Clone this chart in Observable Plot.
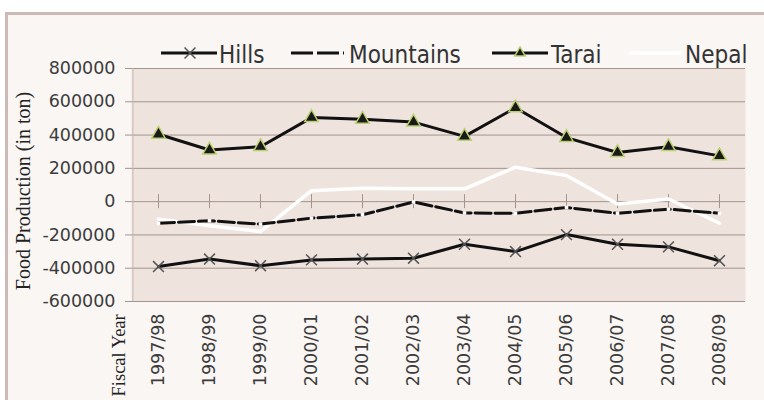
<!DOCTYPE html>
<html><head><meta charset="utf-8">
<script src="https://cdn.jsdelivr.net/npm/d3@7"></script>
<script src="https://cdn.jsdelivr.net/npm/@observablehq/plot@0.6"></script>
<style>
body{margin:0;background:#fff;}
#wrap{position:relative;width:764px;height:400px;overflow:hidden;background:#fff;}
#box{position:absolute;left:5px;top:12px;width:800px;height:400px;background:#faf6f4;border-left:3px solid #cdbab7;border-top:3px solid #cdbab7;}
#chart{position:absolute;left:0;top:0;}
#legend{position:absolute;left:0;top:0;}
</style></head><body>
<div id="wrap"><div id="box"></div><div id="chart"></div><svg id="legend" width="764" height="75"></svg></div>
<script>
const years = ["1997/98","1998/99","1999/00","2000/01","2001/02","2002/03","2003/04","2004/05","2005/06","2006/07","2007/08","2008/09"];
const hills = [-390000,-345000,-385000,-350000,-345000,-340000,-256000,-300000,-198000,-256000,-272000,-355000];
const mountains = [-130000,-115000,-135000,-99000,-79000,-2000,-68000,-70000,-35000,-70000,-45000,-70000];
const tarai = [405000,310000,330000,505000,495000,478000,392000,564000,385000,295000,330000,275000];
const nepal = [-105000,-145000,-180000,66000,80000,77000,77000,207000,157000,-14000,16000,-130000];
const yTicks = [-600000,-400000,-200000,0,200000,400000,600000,800000];
const seriesNames = ["Hills","Mountains","Tarai","Nepal"];

const toRows = (name, vals) => years.map((y, i) => ({series: name, year: y, value: vals[i]}));
const H = toRows("Hills", hills), M = toRows("Mountains", mountains), T = toRows("Tarai", tarai), N = toRows("Nepal", nepal);

const W = 764, mL = 131, mR = 19;
const step = (W - mL - mR) / years.length;
const grid = "#a3948f";

const chart = Plot.plot({
  width: W, height: 400,
  marginLeft: mL, marginRight: mR, marginTop: 68, marginBottom: 99,
  style: {background: "transparent", fontFamily: "DejaVu Sans", fontSize: "17.5px", color: "#3c3c3c", overflow: "visible"},
  x: {type: "point", domain: years, padding: 0.5, label: null},
  y: {domain: [-600000, 800000], label: null},
  marks: [
    Plot.frame({fill: "#efe3dd", stroke: "none"}),
    Plot.ruleY(yTicks, {stroke: grid, strokeWidth: 1}),
    Plot.ruleX([years[0]], {dx: -step / 2, stroke: "#c6b6b2"}),
    Plot.ruleX(years, {y1: -42000, y2: 42000, stroke: grid}),
    Plot.axisY({ticks: yTicks, tickSize: 6, tickPadding: 10, tickFormat: d => String(d), stroke: grid}),
    Plot.axisX({tickSize: 0, tickPadding: 12, tickRotate: -90}),
    Plot.text(["Food Production (in ton)"], {frameAnchor: "left", textAnchor: "middle", dx: -108, dy: 6, rotate: -90, fontFamily: "Liberation Serif", fontSize: 20, fill: "#222"}),
    Plot.text(["Fiscal Year"], {frameAnchor: "bottom-left", dx: -7, dy: 95, rotate: -90, textAnchor: "start", fontFamily: "Liberation Serif", fontSize: 18.5, fill: "#222"}),
    Plot.line(N, {x: "year", y: "value", stroke: "#ffffff", strokeWidth: 3.5}),
    Plot.line(M, {x: "year", y: "value", stroke: "#111", strokeWidth: 3, strokeDasharray: "16,4"}),
    Plot.dot(M, {x: "year", y: "value", symbol: "square", r: 2, fill: "#fff", stroke: "none"}),
    Plot.line(H, {x: "year", y: "value", stroke: "#111", strokeWidth: 3}),
    Plot.dot(H, {x: "year", y: "value", symbol: "times", r: 5, stroke: "#555", strokeWidth: 1.5}),
    Plot.line(T, {x: "year", y: "value", stroke: "#111", strokeWidth: 3}),
    Plot.dot(T, {x: "year", y: "value", symbol: "triangle", r: 5, fill: "#1a1a1a", stroke: "#b8cf72", strokeWidth: 1.5})
  ]
});
document.getElementById("chart").appendChild(chart);

// legend
const lg = d3.select("#legend");
const ly = 53;
const entries = [
  {name: seriesNames[0], x1: 161, x2: 217, tx: 219, dash: null, color: "#111", marker: "x", mx: 190},
  {name: seriesNames[1], x1: 291, x2: 344, tx: 349, dash: "22,4", color: "#111", marker: null},
  {name: seriesNames[2], x1: 492, x2: 548, tx: 551, dash: null, color: "#111", marker: "tri", mx: 520},
  {name: seriesNames[3], x1: 629, x2: 682, tx: 685, dash: null, color: "#fff", marker: null}
];
for (const e of entries) {
  lg.append("line").attr("x1", e.x1).attr("x2", e.x2).attr("y1", ly).attr("y2", ly)
    .attr("stroke", e.color).attr("stroke-width", e.color === "#fff" ? 3.5 : 3)
    .attr("stroke-dasharray", e.dash);
  if (e.marker === "x") {
    lg.append("path").attr("d", d3.symbol(d3.symbolTimes, 80)()).attr("transform", `translate(${e.mx},${ly})`)
      .attr("fill", "none").attr("stroke", "#555").attr("stroke-width", 1.5);
  } else if (e.marker === "tri") {
    lg.append("path").attr("d", d3.symbol(d3.symbolTriangle2, 80)()).attr("transform", `translate(${e.mx},${ly})`)
      .attr("fill", "#1a1a1a").attr("stroke", "#b8cf72").attr("stroke-width", 1.5);
  }
  lg.append("text").attr("x", e.tx).attr("y", 63).text(e.name)
    .attr("font-family", "DejaVu Sans Condensed, DejaVu Sans").attr("font-stretch", "condensed")
    .attr("font-size", 24).attr("fill", "#333");
}
</script>
</body></html>
